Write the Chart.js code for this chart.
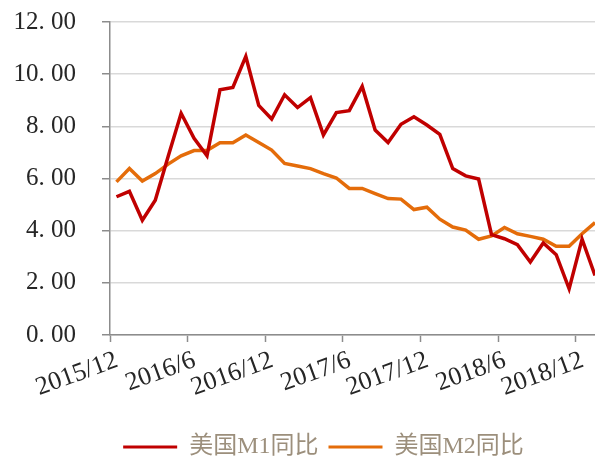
<!DOCTYPE html>
<html lang="zh-CN">
<head>
    <meta charset="UTF-8">
    <title>美国M1、M2同比</title>
    <script src="https://cdn.jsdelivr.net/npm/chart.js"></script>
    <style>
        html, body {
            margin: 0;
            padding: 0;
            background: #ffffff;
        }
        .chart-box {
            width: 595px;
            height: 457px;
        }
    </style>
</head>
<body>
    <div class="chart-box">
        <canvas id="moneyChart"></canvas>
    </div>

    <script>
        // 月份 2015/12 - 2019/1
        const months = [
            '2015/12', '2016/1', '2016/2', '2016/3', '2016/4', '2016/5', '2016/6',
            '2016/7', '2016/8', '2016/9', '2016/10', '2016/11', '2016/12',
            '2017/1', '2017/2', '2017/3', '2017/4', '2017/5', '2017/6',
            '2017/7', '2017/8', '2017/9', '2017/10', '2017/11', '2017/12',
            '2018/1', '2018/2', '2018/3', '2018/4', '2018/5', '2018/6',
            '2018/7', '2018/8', '2018/9', '2018/10', '2018/11', '2018/12',
            '2019/1'
        ];

        // 横轴上显示的标签 (每6个月)
        const tickLabels = ['2015/12', '2016/6', '2016/12', '2017/6', '2017/12', '2018/6', '2018/12'];

        // 美国M1同比 (%)
        const m1 = [
            5.30, 5.51, 4.40, 5.17, 6.85, 8.50, 7.54, 6.87, 9.40, 9.49, 10.68, 8.80, 8.28,
            9.21, 8.72, 9.10, 7.67, 8.53, 8.60, 9.53, 7.86, 7.38, 8.08, 8.37, 8.05,
            7.69, 6.38, 6.10, 5.98, 3.85, 3.69, 3.46, 2.80, 3.53, 3.08, 1.77, 3.67, 2.28
        ];

        // 美国M2同比 (%)
        const m2 = [
            5.87, 6.38, 5.90, 6.19, 6.55, 6.87, 7.07, 7.07, 7.37, 7.37, 7.67, 7.38, 7.09,
            6.58, 6.48, 6.38, 6.19, 6.02, 5.62, 5.62, 5.42, 5.23, 5.21, 4.81, 4.90,
            4.44, 4.14, 4.02, 3.67, 3.80, 4.12, 3.88, 3.78, 3.67, 3.40, 3.40, 3.88, 4.31
        ];

        const fontFamily = '"Liberation Serif", "Noto Sans CJK SC", serif';

        // 每个月放在格子中间
        function toPoints(values) {
            return values.map((v, i) => ({ x: i + 0.5, y: v, month: months[i] }));
        }

        new Chart(document.getElementById('moneyChart'), {
            type: 'line',
            data: {
                datasets: [
                    {
                        label: '美国M1同比',
                        data: toPoints(m1),
                        borderColor: '#c00000',
                        backgroundColor: '#c00000',
                        borderWidth: 3.5,
                        pointRadius: 0,
                        tension: 0
                    },
                    {
                        label: '美国M2同比',
                        data: toPoints(m2),
                        borderColor: '#e46c0a',
                        backgroundColor: '#e46c0a',
                        borderWidth: 3.5,
                        pointRadius: 0,
                        tension: 0
                    }
                ]
            },
            options: {
                responsive: true,
                maintainAspectRatio: false,
                animation: false,
                // 右侧负边距: 图例整体偏右, 和原图一样
                layout: {
                    padding: { top: 22, left: 0, right: -52, bottom: -12 }
                },
                scales: {
                    x: {
                        type: 'linear',
                        min: 0,
                        max: 37.5,
                        afterFit: scale => { scale.height = 90; },
                        border: { color: '#8c8c8c', width: 1.5 },
                        grid: {
                            drawOnChartArea: false,
                            drawTicks: true,
                            tickLength: 7,
                            tickColor: '#8c8c8c',
                            tickWidth: 1.5
                        },
                        ticks: {
                            stepSize: 6,
                            includeBounds: false,
                            autoSkip: false,
                            minRotation: 20,
                            maxRotation: 20,
                            padding: 3,
                            labelOffset: 7,
                            color: '#262626',
                            font: { family: fontFamily, size: 26 },
                            callback: v => tickLabels[v / 6]
                        }
                    },
                    y: {
                        min: 0,
                        max: 12,
                        afterFit: scale => {
                            scale.width = 110;
                            // 标签离轴较远, 不要让它把绘图区往下推
                            scale.paddingTop = 14;
                            scale.paddingBottom = 14;
                        },
                        border: { color: '#8c8c8c', width: 1.5 },
                        grid: {
                            color: '#d9d9d9',
                            lineWidth: 1.5,
                            tickLength: 8,
                            tickColor: '#8c8c8c',
                            tickWidth: 1.5
                        },
                        ticks: {
                            stepSize: 2,
                            padding: 26,
                            color: '#262626',
                            font: { family: fontFamily, size: 25 },
                            callback: v => v.toFixed(2).replace('.', '. ')
                        }
                    }
                },
                plugins: {
                    legend: {
                        position: 'bottom',
                        labels: {
                            boxWidth: 54,
                            boxHeight: 3,
                            padding: 10,
                            color: '#9c8f7c',
                            font: { family: fontFamily, size: 24 },
                            generateLabels: chart => Chart.defaults.plugins.legend.labels.generateLabels(chart)
                                .map(item => Object.assign(item, { lineWidth: 0 }))
                        }
                    },
                    tooltip: {
                        callbacks: {
                            title: items => items[0].raw.month
                        }
                    }
                }
            }
        });
    </script>
</body>
</html>
